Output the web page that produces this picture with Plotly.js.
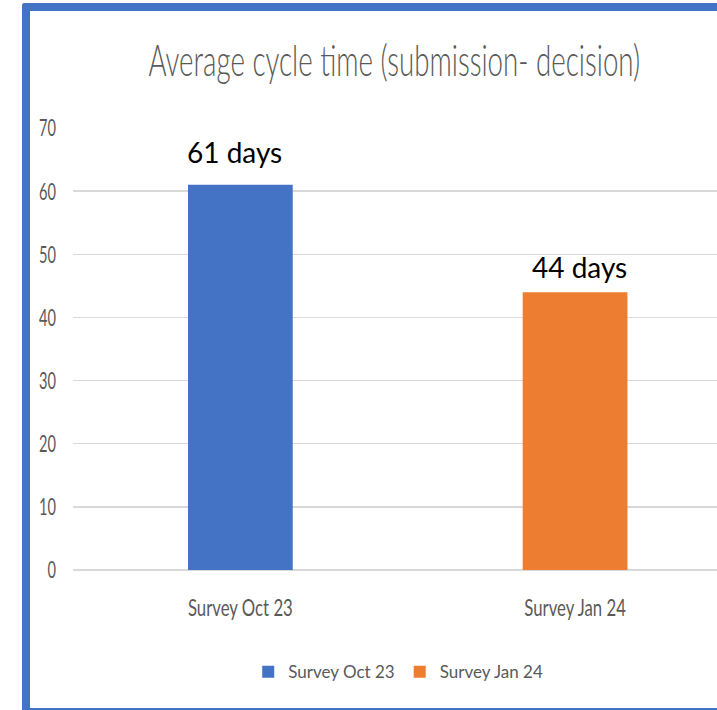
<!DOCTYPE html>
<html>
<head>
<meta charset="utf-8">
<script src="https://cdn.plot.ly/plotly-3.0.1.min.js"></script>
<style>
  html, body { margin: 0; padding: 0; background: #ffffff; overflow: hidden; }
  #wrap { position: relative; width: 717px; height: 710px; overflow: hidden; }
  #chart { position: absolute; left: 0; top: 0; width: 717px; height: 710px; }
  #frame {
    position: absolute; left: 22px; top: 3px; width: 760px; height: 707px;
    box-sizing: border-box;
    border-left: 8px solid #4472C4; border-top: 8px solid #4472C4;
    border-bottom: 2px solid #4472C4;
    border-top-left-radius: 3px;
    pointer-events: none;
  }
</style>
</head>
<body>
<div id="wrap">
  <div id="chart"></div>
  <div id="frame"></div>
</div>
<script>
// ---- data ----
const categories = ["Survey Oct 23", "Survey Jan 24"];
const values = [61, 44];
const valueLabels = ["61 days", "44 days"];
const seriesColors = ["#4472C4", "#ED7D31"];
const yTickValues = [0, 10, 20, 30, 40, 50, 60, 70];
const chartTitle = "Average cycle time (submission- decision)";

// label placement offsets (style, pixels)
const labelYShift = [14, 6];
const labelXShift = [-6, 4];

const sans = "Lato, 'Open Sans', 'Liberation Sans', sans-serif";

const traces = categories.map((c, i) => ({
  type: "bar",
  name: c,
  x: [c],
  y: [values[i]],
  width: 0.313,
  marker: { color: seriesColors[i] },
  hoverinfo: "skip"
}));

const annotations = categories.map((c, i) => ({
  x: c, y: values[i], xref: "x", yref: "y",
  text: valueLabels[i], showarrow: false,
  yanchor: "bottom", yshift: labelYShift[i], xshift: labelXShift[i],
  font: { family: sans, size: 28, color: "#000000" }
}));

const layout = {
  width: 717, height: 710,
  margin: { l: 73, r: 0, t: 128, b: 140, pad: 0 },
  paper_bgcolor: "#ffffff", plot_bgcolor: "#ffffff",
  barmode: "overlay",
  showlegend: true,
  title: {
    text: chartTitle,
    font: { family: sans, size: 43, weight: 300, color: "#595959" },
    xref: "container", x: 0.55, xanchor: "center",
    yref: "container", y: 0.914, yanchor: "middle"
  },
  xaxis: {
    type: "category",
    categoryorder: "array", categoryarray: categories,
    range: [-0.5, 1.424],
    showgrid: false, showline: false, zeroline: false,
    ticks: "", ticklabelstandoff: 21,
    tickfont: { family: sans, size: 24, color: "#595959" }
  },
  yaxis: {
    range: [0, 70],
    tickvals: yTickValues,
    showgrid: true, gridcolor: "#d9d9d9", gridwidth: 1.5,
    zeroline: true, zerolinecolor: "#d9d9d9", zerolinewidth: 1.5,
    showline: false, ticks: "", ticklabelstandoff: 16,
    tickfont: { family: sans, size: 24, color: "#595959" }
  },
  legend: {
    orientation: "h",
    x: 0.505, xanchor: "center",
    y: -0.231, yanchor: "middle",
    font: { family: sans, size: 17, color: "#595959" },
    itemwidth: 30
  },
  annotations: annotations
};

// horizontally condense text elements about their anchor point
function squeeze(nodes, targetWidth) {
  if (!nodes.length) return;
  const w = nodes[0].getBBox().width;
  if (!w) return;
  const k = targetWidth / w;
  nodes.forEach(t => {
    const x = parseFloat(t.getAttribute("x")) || 0;
    const y = parseFloat(t.getAttribute("y")) || 0;
    const tr = t.getAttribute("transform") || "";
    t.setAttribute("transform", tr + " translate(" + x + "," + y + ") scale(" + k + ",1) translate(" + (-x) + "," + (-y) + ")");
  });
}

Plotly.newPlot("chart", traces, layout, { displayModeBar: false, staticPlot: true }).then(gd => {
  squeeze(Array.from(gd.querySelectorAll(".gtitle")), 492);
  squeeze(Array.from(gd.querySelectorAll(".xtick text")), 105);
  const yt = Array.from(gd.querySelectorAll(".ytick text"));
  const seventy = yt.filter(t => t.textContent === "70");
  const ordered = seventy.concat(yt.filter(t => t.textContent !== "70"));
  squeeze(ordered, 17);
});
</script>
</body>
</html>
